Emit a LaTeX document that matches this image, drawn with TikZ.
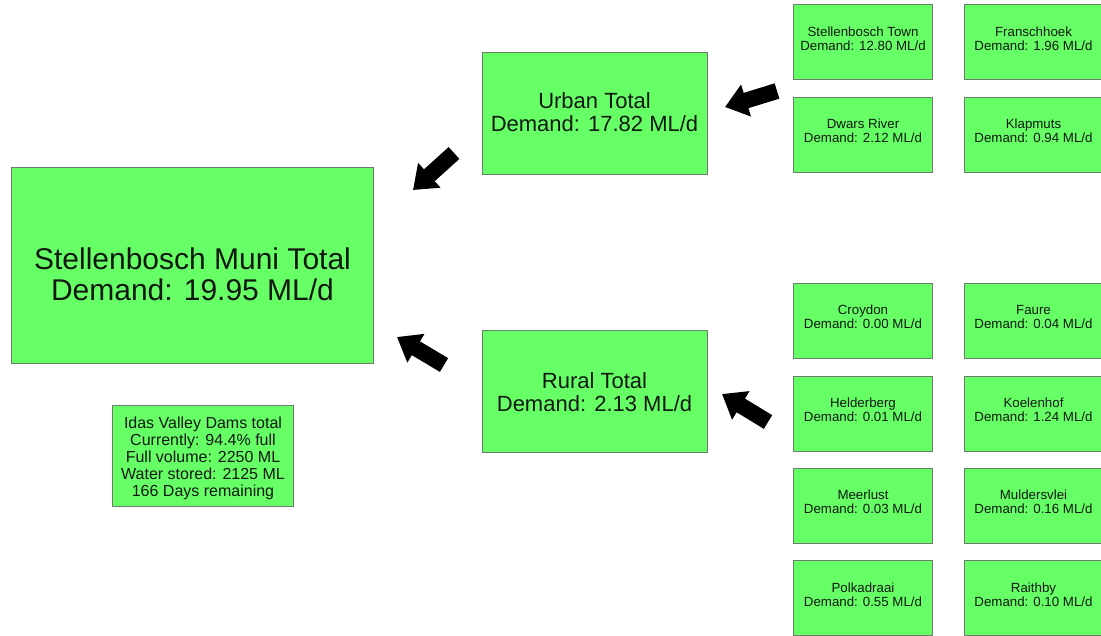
\documentclass[tikz,border=0pt]{standalone}
\usepackage{fontspec}
\setmainfont{Liberation Sans}
\usetikzlibrary{arrows.meta}
\definecolor{boxfill}{RGB}{102,255,102}
\definecolor{boxdraw}{RGB}{105,125,105}
\definecolor{txtc}{RGB}{16,24,16}
\begin{document}
\begin{tikzpicture}[x=1pt,y=-1pt,
  box/.style={draw=boxdraw, fill=boxfill, line width=0.9pt, inner sep=0pt},
  bigbox/.style={box, minimum width=362pt, minimum height=196pt},
  midbox/.style={box, minimum width=225pt, minimum height=122pt},
  idbox/.style={box, minimum width=181pt, minimum height=101pt},
  smallbox/.style={box, minimum width=139pt, minimum height=75pt},
  txtbase/.style={text=txtc, inner sep=0pt, align=center, anchor=north},
  bigtxt/.style={txtbase, font=\fontsize{30}{30.5}\selectfont},
  midtxt/.style={txtbase, font=\fontsize{22}{23.5}\selectfont},
  idtxt/.style={txtbase, font=\fontsize{16}{16.8}\selectfont},
  smalltxt/.style={txtbase, font=\fontsize{13.3}{14.3}\selectfont},
  blockarrow/.style={draw=black, line width=16pt, line cap=butt,
    -{Triangle[width=32pt,length=22pt]}}
]
\useasboundingbox (0,0) rectangle (1101,635);
\clip (0,0) rectangle (1101,635);

% main boxes
\node[bigbox] (main) at (192,265) {};
\node[bigtxt] (maint) at (192.5,248) {Stellenbosch Muni Total\\Demand: 19.95 ML/d};

\node[midbox] (urban) at (594.5,113) {};
\node[midtxt] (urbant) at (594.5,92) {Urban Total\\Demand: 17.82 ML/d};

\node[midbox] (rural) at (594.5,391.5) {};
\node[midtxt] (ruralt) at (594.5,372) {Rural Total\\Demand: 2.13 ML/d};

\node[idbox] (idas) at (203,455.5) {};
\node[idtxt] (idast) at (203,417) {Idas Valley Dams total\\Currently: 94.4\% full\\Full volume: 2250 ML\\Water stored: 2125 ML\\166 Days remaining};

% small boxes: left column
\node[smallbox] (stown) at (862.5,42) {};
\node[smalltxt] (stownt) at (863,26.7) {Stellenbosch Town\\Demand: 12.80 ML/d};
\node[smallbox] (dwars) at (862.5,134.5) {};
\node[smalltxt] (dwarst) at (863,118.7) {Dwars River\\Demand: 2.12 ML/d};
\node[smallbox] (croy) at (862.5,320.5) {};
\node[smalltxt] (croyt) at (863,304.7) {Croydon\\Demand: 0.00 ML/d};
\node[smallbox] (held) at (862.5,413.5) {};
\node[smalltxt] (heldt) at (863,397.7) {Helderberg\\Demand: 0.01 ML/d};
\node[smallbox] (meer) at (862.5,505.5) {};
\node[smalltxt] (meert) at (863,489.7) {Meerlust\\Demand: 0.03 ML/d};
\node[smallbox] (polk) at (862.5,598) {};
\node[smalltxt] (polkt) at (863,582.2) {Polkadraai\\Demand: 0.55 ML/d};

% small boxes: right column
\node[smallbox] (fran) at (1033.5,42) {};
\node[smalltxt] (frant) at (1033.5,26.7) {Franschhoek\\Demand: 1.96 ML/d};
\node[smallbox] (klap) at (1033.5,134.5) {};
\node[smalltxt] (klapt) at (1033.5,118.7) {Klapmuts\\Demand: 0.94 ML/d};
\node[smallbox] (faure) at (1033.5,320.5) {};
\node[smalltxt] (fauret) at (1033.5,304.7) {Faure\\Demand: 0.04 ML/d};
\node[smallbox] (koel) at (1033.5,413.5) {};
\node[smalltxt] (koelt) at (1033.5,397.7) {Koelenhof\\Demand: 1.24 ML/d};
\node[smallbox] (muld) at (1033.5,505.5) {};
\node[smalltxt] (muldt) at (1033.5,489.7) {Muldersvlei\\Demand: 0.16 ML/d};
\node[smallbox] (raith) at (1033.5,598) {};
\node[smalltxt] (raitht) at (1033.5,582.2) {Raithby\\Demand: 0.10 ML/d};

% arrows
\coordinate (a1s) at (777,91);
\coordinate (a1e) at (725,107);
\coordinate (a2s) at (454,153);
\coordinate (a2e) at (413,190);
\coordinate (a3s) at (444,365);
\coordinate (a3e) at (397,337);
\coordinate (a4s) at (768,422);
\coordinate (a4e) at (722,394);
\draw[blockarrow] (a1s) -- (a1e);
\draw[blockarrow] (a2s) -- (a2e);
\draw[blockarrow] (a3s) -- (a3e);
\draw[blockarrow] (a4s) -- (a4e);
\end{tikzpicture}
\end{document}
